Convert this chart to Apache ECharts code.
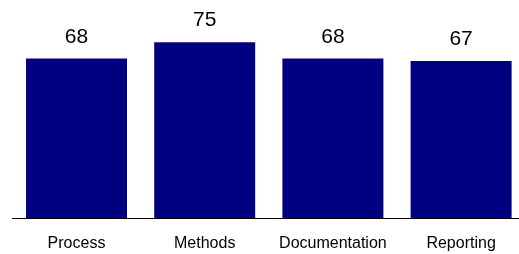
<!DOCTYPE html>
<html>
<head>
<meta charset="utf-8">
<script src="https://cdn.jsdelivr.net/npm/echarts@6/dist/echarts.min.js"></script>
<style>html,body{margin:0;padding:0;background:#fff}#c{width:519px;height:254px}</style>
</head>
<body>
<div id="c"></div>
<script>
var categories = ["Process", "Methods", "Documentation", "Reporting"];
var values = [68, 75, 68, 67];

var chart = echarts.init(document.getElementById('c'), null, {renderer: 'canvas'});
chart.setOption({
  animation: false,
  backgroundColor: '#ffffff',
  grid: {left: 12.4, width: 512.8, top: 7, bottom: 36, containLabel: false, outerBoundsMode: 'none'},
  xAxis: {
    type: 'category',
    data: categories,
    axisLine: {show: true, lineStyle: {color: '#000000', width: 1}},
    axisTick: {show: false},
    axisLabel: {interval: 0, color: '#000000', fontFamily: 'Liberation Sans, Arial, sans-serif', fontSize: 16, margin: 18}
  },
  yAxis: {
    type: 'value', min: 0, max: 90,
    show: false,
    splitLine: {show: false}
  },
  series: [{
    type: 'bar',
    data: values,
    barWidth: 101,
    itemStyle: {color: '#000080'},
    label: {show: true, position: 'top', distance: 11, color: '#000000', fontFamily: 'Liberation Sans, Arial, sans-serif', fontSize: 21}
  }]
});
</script>
</body>
</html>
